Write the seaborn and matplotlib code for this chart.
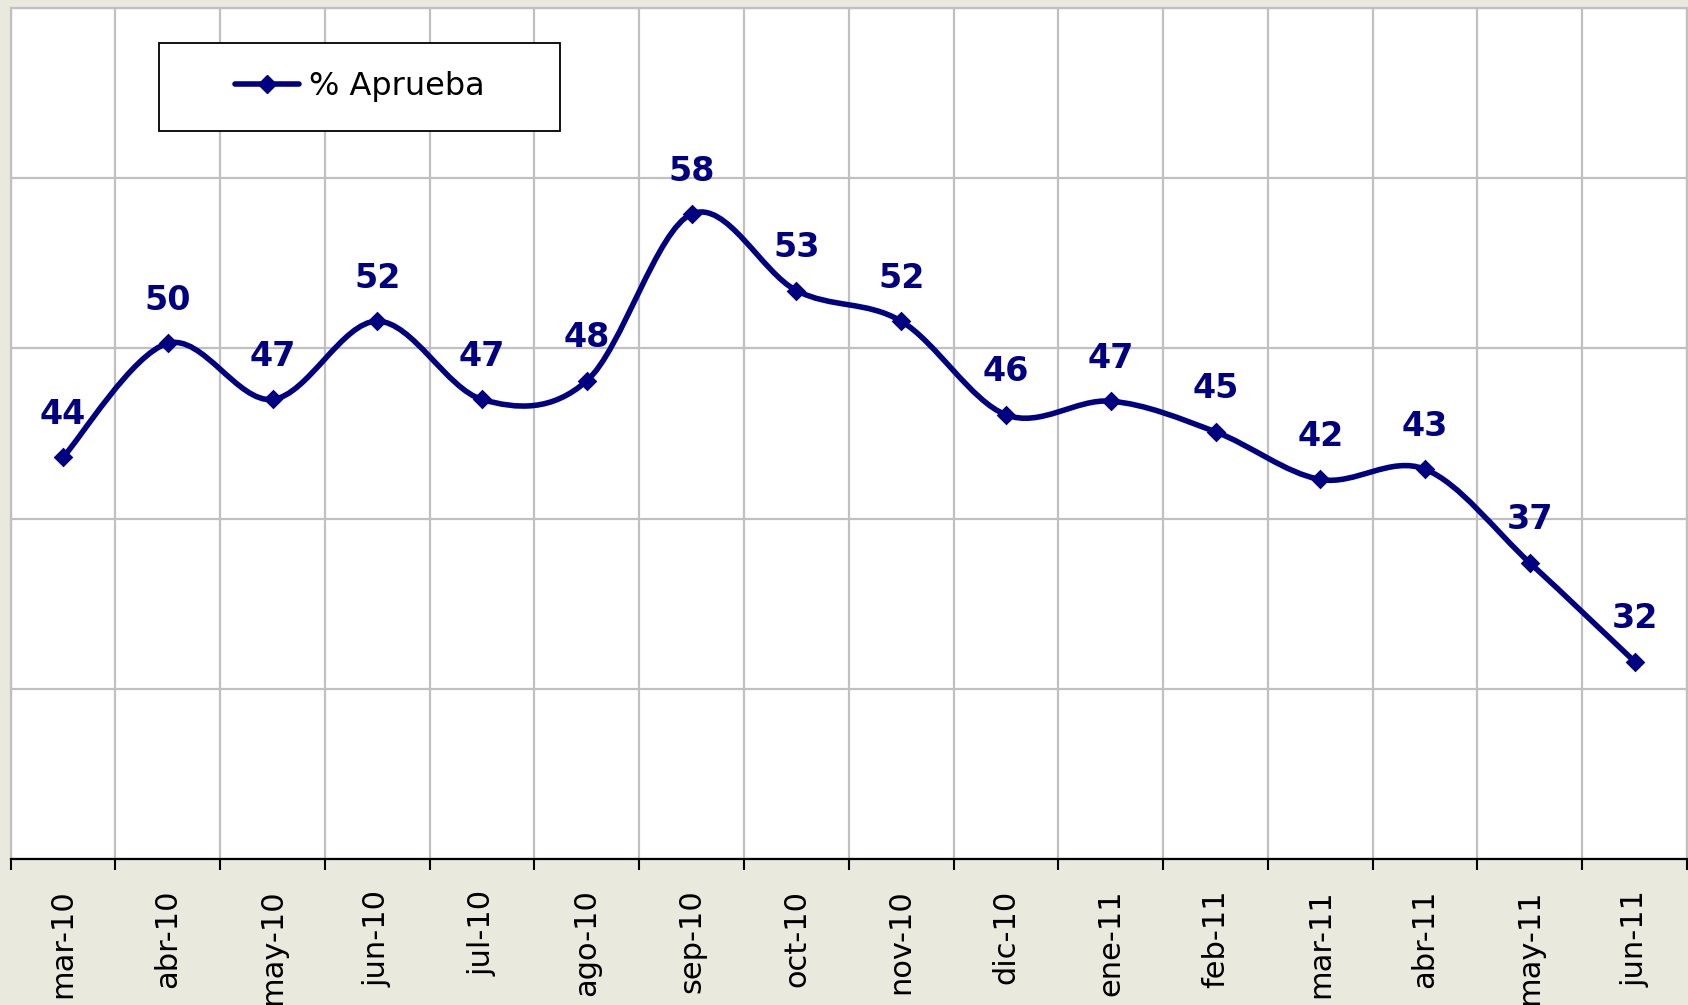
"""Monthly approval line chart (% Aprueba), mar-10 to jun-11."""
import numpy as np
import matplotlib
matplotlib.use('Agg')
import matplotlib.pyplot as plt
from matplotlib.path import Path
from matplotlib.patches import PathPatch, Rectangle
from matplotlib.lines import Line2D
import seaborn as sns

months = ['mar-10', 'abr-10', 'may-10', 'jun-10', 'jul-10', 'ago-10',
          'sep-10', 'oct-10', 'nov-10', 'dic-10', 'ene-11', 'feb-11',
          'mar-11', 'abr-11', 'may-11', 'jun-11']
approval = [43.6, 50.3, 47.0, 51.6, 47.0, 48.1, 57.9, 53.4, 51.6, 46.1,
            46.9, 45.1, 42.3, 42.9, 37.4, 31.6]
labels = ['44', '50', '47', '52', '47', '48', '58', '53', '52', '46',
          '47', '45', '42', '43', '37', '32']
y_ticks = [20, 30, 40, 50, 60, 70]

NAVY = '#000080'
BEIGE = '#E9E9DE'
GRID = '#C0C0C0'

sns.set_style('white')
plt.rcParams['font.family'] = ['DejaVu Sans']
plt.rcParams['text.color'] = 'black'

fig = plt.figure(figsize=(16.88, 10.05), dpi=100, facecolor=BEIGE)
ax = fig.add_axes([0.0063, 0.1453, 0.9931, 0.8467])
ax.set_facecolor('white')

x = np.arange(len(months))
y = np.array(approval)

# smoothed line like Excel: cubic bezier segments through the points
pts = np.column_stack([x, y]).astype(float)
verts = [tuple(pts[0])]
codes = [Path.MOVETO]
for i in range(len(pts) - 1):
    p0 = pts[i - 1] if i > 0 else pts[i]
    p1, p2 = pts[i], pts[i + 1]
    p3 = pts[i + 2] if i + 2 < len(pts) else pts[i + 1]
    c1 = p1 + (p2 - p0) / 6.0
    c2 = p2 - (p3 - p1) / 6.0
    verts += [tuple(c1), tuple(c2), tuple(p2)]
    codes += [Path.CURVE4] * 3
ax.add_patch(PathPatch(Path(verts, codes), facecolor='none', edgecolor=NAVY,
                       lw=4.0, capstyle='round', joinstyle='round', zorder=3))

sns.scatterplot(x=x, y=y, marker='D', s=100, color=NAVY, edgecolor=NAVY,
                linewidth=0, zorder=4, ax=ax, legend=False)

for xi, yi, lab in zip(x, y, labels):
    ax.annotate(lab, (xi, yi), xytext=(0, 19), textcoords='offset points',
                ha='center', va='bottom', fontsize=24, fontweight='bold',
                color=NAVY)

ax.set_xlim(-0.5, len(months) - 0.5)
ax.set_ylim(20, 70)
ax.set_yticks(y_ticks)
ax.set_yticklabels([])
ax.tick_params(axis='y', length=0)

ax.set_xticks(np.arange(-0.5, len(months), 1.0))
ax.set_xticklabels([])
ax.set_xticks(x, minor=True)
ax.set_xticklabels(months, minor=True, rotation=90, fontsize=22,
                   color='black')
ax.tick_params(axis='x', which='major', bottom=True, length=8, width=1.5,
               color='black', direction='out')
ax.tick_params(axis='x', which='minor', bottom=True, length=0, pad=22)

ax.grid(True, which='major', color=GRID, lw=1.6)
ax.set_axisbelow(True)
for side in ['left', 'top', 'right']:
    ax.spines[side].set_color(GRID)
    ax.spines[side].set_linewidth(1.6)
ax.spines['bottom'].set_color('black')
ax.spines['bottom'].set_linewidth(1.6)

# legend box
ax.add_patch(Rectangle((0.0885, 0.8555), 0.2392, 0.1034, transform=ax.transAxes,
                       facecolor='white', edgecolor='black', lw=1.3, zorder=5))
handle = Line2D([], [], color=NAVY, lw=4.0, marker='D', markersize=9,
                solid_capstyle='round')
leg = ax.legend([handle], ['% Aprueba'], loc='center left',
                bbox_to_anchor=(0.1340, 0.9073), frameon=False, fontsize=23,
                handlelength=2.0, handletextpad=0.3, borderpad=0,
                borderaxespad=0)
for t in leg.get_texts():
    t.set_color('black')
leg.set_zorder(6)

fig.savefig('out.png', dpi=100, facecolor=BEIGE)
